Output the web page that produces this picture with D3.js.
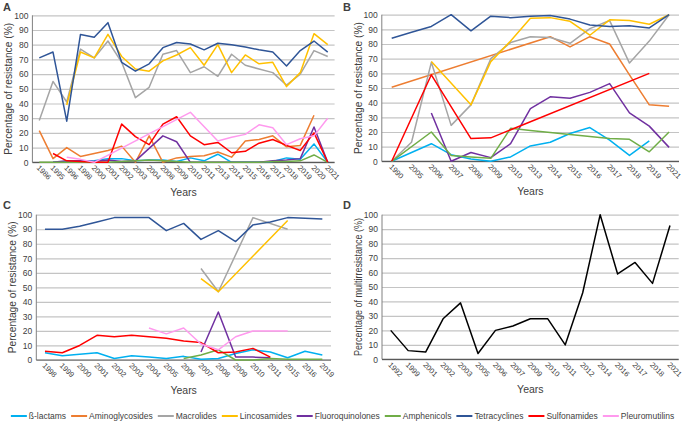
<!DOCTYPE html>
<html>
<head>
<meta charset="utf-8">
<script src="https://cdn.jsdelivr.net/npm/d3@7"></script>
<style>
  body { margin: 0; background: #fff; }
  text { font-family: "Liberation Sans", Arial, sans-serif; fill: #404040; }
</style>
</head>
<body>
<svg id="chart" width="685" height="424"></svg>
<script>
// antimicrobial classes, in legend / drawing order
const classes = ["ß-lactams", "Aminoglycosides", "Macrolides", "Lincosamides", "Fluoroquinolones",
                 "Amphenicols", "Tetracyclines", "Sulfonamides", "Pleuromutilins"];
const colors = ["#00b0f0", "#ed7d31", "#a5a5a5", "#ffc000", "#7030a0",
                "#70ad47", "#2f5597", "#ff0000", "#ff99ee"];
const yTicks = [0, 10, 20, 30, 40, 50, 60, 70, 80, 90, 100];

// panel A
const yearsA = ["1986","1995","1996","1998","2000","2001","2002","2003","2004","2008","2009",
                "2010","2011","2013","2014","2015","2016","2017","2018","2019","2020","2021"];
const betaA   = [null, 0, 0.5, 0.5, 1, 2.5, 2.5, 1, 1.5, 1.5, 0.5, 3, 1, 5.5, 0, 0, 0, 0.5, 3, 2, 12.5, 0];
const aminoA  = [21.5, 2.5, 10, 4, 6, 8, 11, 0, 18, 0, 3, 4, 4.5, 7, 3.5, 14.5, 15.5, 18, 10.5, 11.5, 32, null];
const macroA  = [28.5, 55, 41, 77, 71, 82.5, 68, 44, 51, 73.5, 76, 61, 65, 58.5, 73.5, 66, 63.5, 61, 52.5, 60, 76, 72];
const lincoA  = [null, null, 39, 75, 71, 87, 72, 63.5, 62, 69, 73, 78, 66, 80, 61, 73, 67, 68, 51.5, 61, 87.5, 80];
const fluoroA = [null, 0, 1, 1, 0.5, 1.5, 0.5, 1, 9.5, 18, 14, 0, 0, 0, 0, 0, 0, 1, 1.5, 2.5, 24, 0];
const amphA   = [0, 0, 0, 0, 0, 0, 0.5, 1, 1.5, 1, 0.5, 0, 0, 0, 0, 0, 0, 0.5, 0.5, 1, 5, 0];
const tetraA  = [71, 75, 28, 87, 85, 95, 68, 62, 67, 78, 81.5, 80.5, 76.5, 81, 80, 78.5, 76.5, 75, 65.5, 76, 82.5, 75];
const sulfoA  = [null, 6, 1, 0.5, 0, 0, 26, 17.5, 12, 26, 31, 18, 12, 13.5, 6.5, 7.5, 13, 15.5, 11.5, 8, 20, 0];
const pleuroA = [null, null, 3.5, 2, 0, null, null, null, null, null, null, 34, null, 14.5, 17, 19, 25.5, 23.5, 12, 16, 18, 30];

// panel B
const yearsB = ["1990","2005","2006","2007","2008","2009","2010","2013","2014","2015","2016","2017","2018","2019","2021"];
const betaB   = [0, null, 12, 4.5, 1.5, 0, 3, 10.5, 13, 19, 23, 14.5, 4, 14, null];
const aminoB  = [50.5, null, null, null, null, null, null, null, 85, 78, 85, 80, 59, 38.5, 37.5];
const macroB  = [0, 13, 67.5, 24.5, 38.5, 70, 81, 85, 84.5, 80.5, 90.5, 96, 67, 82, 100];
const lincoB  = [null, null, 68, null, 38.5, 68, 82, 97.5, 98, 95.5, 86, 96.5, 96, 93.5, 100];
const fluoroB = [null, null, 33, 0, 6, 2.5, 12, 36, 44, 43, 47, 53, 33, 24, 9.5];
const amphB   = [0, null, 20, 4, 3, 2, 22.5, 21, null, null, null, 15.5, 15, 6.5, 20];
const tetraB  = [84, 88, 92, 100, 89, 99, 98, 99, 99.5, 97, 93, 92, 92.5, 91, 100];
const sulfoB  = [0, null, 59, null, 15.5, 16, null, null, null, null, null, null, null, 60, null];
const pleuroB = [null, null, null, null, null, null, null, null, null, null, null, null, null, null, null];

// panel C
const yearsC = ["1998","1999","2000","2001","2002","2003","2004","2005","2006","2007","2008",
                "2009","2010","2011","2015","2016","2019"];
const betaC   = [5, 3, 4, 5, 1, 3, 2, 1, 2.5, 0.5, 1, 4.5, 7, 5.5, 1.5, 6, 3.5];
const aminoC  = [null, null, null, null, null, null, null, null, null, null, null, null, null, null, null, null, null];
const macroC  = [null, null, null, null, null, null, null, null, null, 63, 47, null, 98, null, 90, null, null];
const lincoC  = [null, null, null, null, null, null, null, null, null, 56, 47, null, null, null, 96, null, null];
const fluoroC = [null, null, null, null, null, null, null, null, null, 5.5, 33, 2, 2, 1.5, null, null, null];
const amphC   = [null, null, null, null, null, null, null, null, 1, 3.5, 7, 0, 0, 1, 0.5, 0.5, 0.5];
const tetraC  = [90, 90, 92, 95, 98, 98, 98, 89, 94, 83, 89, 81.5, 93, 95, 98, 97.5, 97];
const sulfoC  = [6, 5, 10, 17, 16, 17, 16, 15, 13, 12, 5, 5.5, 8, 2, null, null, null];
const pleuroC = [null, null, null, null, null, null, 22, 18, 22, 11, 7, 16, 20, 20, 20, null, null];

// panel D
const yearsD = ["1992","1999","2001","2002","2003","2005","2006","2007","2009","2010","2011",
                "2012","2014","2016","2017","2018","2021"];
const multiD = [20, 6, 5, 28, 39, 4, 20, 23, 28, 28, 10, 46, 100, 59, 67, 52.5, 92.5];

const svg = d3.select("#chart");

const panels = [
  { tag: "A", years: yearsA, x0: 32.4, x1: 334.6, yTop: 15.3, yBot: 162.3, lx: 3, ly: 11,
    title: "Percentage of resistance (%)", titleLen: 132,
    series: [betaA, aminoA, macroA, lincoA, fluoroA, amphA, tetraA, sulfoA, pleuroA] },
  { tag: "B", years: yearsB, x0: 381.8, x1: 679, yTop: 14.7, yBot: 161.3, lx: 343, ly: 11,
    title: "Percentage of resistance (%)", titleLen: 132,
    series: [betaB, aminoB, macroB, lincoB, fluoroB, amphB, tetraB, sulfoB, pleuroB] },
  { tag: "C", years: yearsC, x0: 36.3, x1: 331, yTop: 214.7, yBot: 360, lx: 3, ly: 209,
    title: "Percentage of resistance (%)", titleLen: 132,
    series: [betaC, aminoC, macroC, lincoC, fluoroC, amphC, tetraC, sulfoC, pleuroC] },
  { tag: "D", years: yearsD, x0: 382, x1: 678.7, yTop: 214.7, yBot: 359.3, lx: 343, ly: 209,
    title: "Percentage of multirresistance (%)", titleLen: 138,
    series: [multiD], colors: ["#000000"] }
];

panels.forEach(p => {
  const g = svg.append("g");
  const x = d3.scalePoint().domain(p.years).range([p.x0, p.x1]).padding(0.5);
  const y = d3.scaleLinear().domain([0, 100]).range([p.yBot, p.yTop]);

  // gridlines + y tick labels
  const yAxis = g.append("g")
    .attr("transform", `translate(${p.x0},0)`)
    .call(d3.axisLeft(y).tickValues(yTicks).tickSize(-(p.x1 - p.x0)).tickPadding(4));
  yAxis.select(".domain").remove();
  yAxis.selectAll(".tick line").attr("stroke", "#c4c4c4").attr("stroke-width", 1.2);
  yAxis.selectAll(".tick text").attr("font-size", 8.5).attr("fill", "#404040")
    .attr("font-family", "Liberation Sans, Arial, sans-serif");

  // axis lines
  g.append("line").attr("x1", p.x0).attr("x2", p.x0).attr("y1", p.yTop).attr("y2", p.yBot)
    .attr("stroke", "#808080").attr("stroke-width", 1);
  g.append("line").attr("x1", p.x0).attr("x2", p.x1).attr("y1", p.yBot).attr("y2", p.yBot)
    .attr("stroke", "#595959").attr("stroke-width", 1.2);

  // rotated category labels
  g.selectAll(".xl").data(p.years).enter().append("text")
    .attr("class", "xl")
    .attr("transform", d => `translate(${x(d) - 3},${p.yBot + 6}) rotate(45)`)
    .attr("font-size", 7.5)
    .text(d => d);

  // series lines, connecting over gaps like Excel
  const line = d3.line().x(d => x(d[0])).y(d => y(d[1]));
  p.series.forEach((vals, i) => {
    const pts = p.years.map((yr, k) => [yr, vals[k]]).filter(d => d[1] != null);
    if (pts.length < 2) return;
    g.append("path").datum(pts)
      .attr("d", line)
      .attr("fill", "none")
      .attr("stroke", (p.colors || colors)[i])
      .attr("stroke-width", 1.5)
      .attr("stroke-linejoin", "round");
  });

  // axis titles
  g.append("text")
    .attr("transform", `translate(${p.x0 - 20},${(p.yTop + p.yBot) / 2}) rotate(-90)`)
    .attr("text-anchor", "middle").attr("font-size", 10)
    .attr("textLength", p.titleLen).attr("lengthAdjust", "spacingAndGlyphs")
    .text(p.title);
  g.append("text")
    .attr("x", (p.x0 + p.x1) / 2).attr("y", p.yBot + 34)
    .attr("text-anchor", "middle").attr("font-size", 10.5)
    .text("Years");

  // panel tag
  g.append("text").attr("x", p.lx).attr("y", p.ly)
    .attr("font-size", 11).attr("font-weight", "bold").attr("fill", "#222")
    .text(p.tag);
});

// legend along the bottom, sized to span the same width as the reference
const leg = svg.append("g");
const sw = 16, gap = 5, span = 664;
const probe = classes.map(c => {
  const t = leg.append("text").attr("font-size", 10).text(c);
  const w = t.node().getComputedTextLength();
  t.remove();
  return w;
});
const fs = 10 * (span - classes.length * (sw + 2) - (classes.length - 1) * gap) / d3.sum(probe);
let cx = 0;
classes.forEach((c, i) => {
  const it = leg.append("g").attr("transform", `translate(${cx},0)`);
  it.append("line").attr("x1", 0).attr("x2", sw).attr("y1", 0).attr("y2", 0)
    .attr("stroke", colors[i]).attr("stroke-width", 2);
  const t = it.append("text").attr("x", sw + 2).attr("y", fs * 0.35).attr("font-size", fs).text(c);
  cx += sw + 2 + t.node().getComputedTextLength() + gap;
});
leg.attr("transform", `translate(${(685 - (cx - gap)) / 2},416)`);
</script>
</body>
</html>
